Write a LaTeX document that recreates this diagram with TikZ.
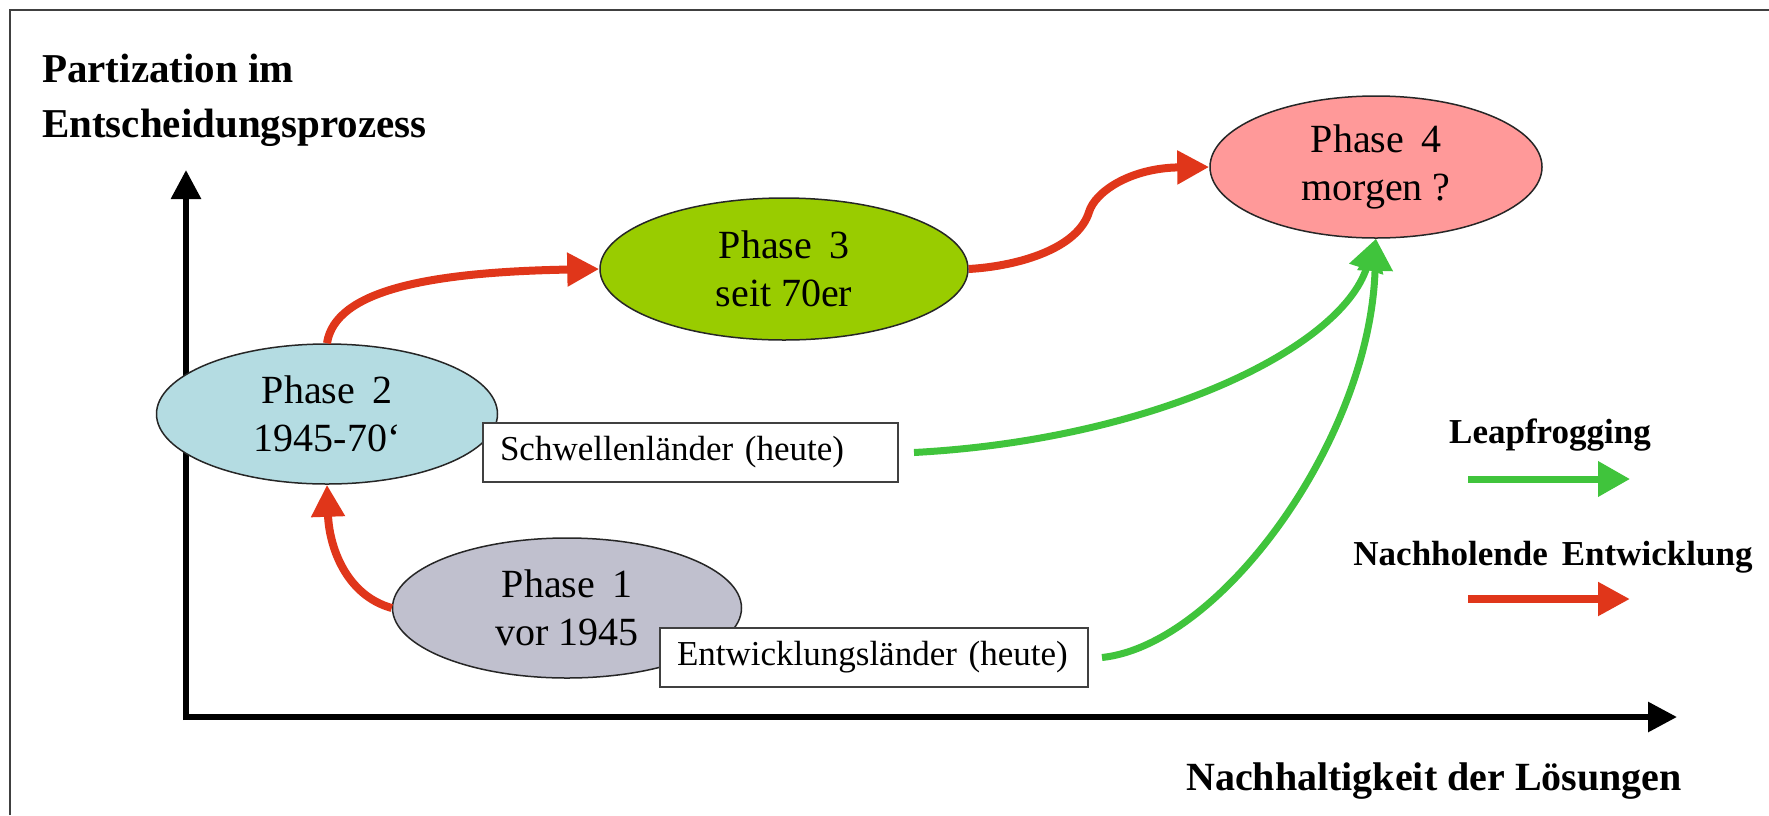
\documentclass[tikz,border=0pt]{standalone}
\usepackage{fontspec}
\setmainfont{Liberation Serif}
\usetikzlibrary{shapes.geometric,arrows.meta}
\definecolor{cone}{HTML}{C0C0CE}
\definecolor{ctwo}{HTML}{B4DCE2}
\definecolor{cthree}{HTML}{99CC00}
\definecolor{cfour}{HTML}{FF9999}
\definecolor{cred}{HTML}{E0361A}
\definecolor{cgreen}{HTML}{40C43C}
\definecolor{cframe}{HTML}{404040}
\newcommand{\wsp}{\hspace{0.42em}}
\begin{document}
\begin{tikzpicture}[x=1pt,y=-1pt,
  ell/.style={ellipse, draw=black!85, line width=1.5pt, inner sep=0pt, align=center,
    font=\fontsize{40}{48}\selectfont},
  lbox/.style={draw=black!75, line width=2pt, fill=white, inner ysep=0pt, inner xsep=17pt,
    align=left, minimum height=59pt, font=\fontsize{35}{40}\selectfont},
  redarr/.style={draw=cred, line width=8pt, -{Triangle[length=32pt,width=32pt]}},
  greenarr/.style={draw=cgreen, line width=7pt, -{Triangle[length=32pt,width=34pt]}},
  axisarr/.style={draw=black, line width=6pt, -{Triangle[length=29pt,width=29pt]}},
  bold/.style={font=\fontsize{35}{40}\selectfont\bfseries, inner sep=0pt}
]
\useasboundingbox (0,0) rectangle (1769,815);
\fill[white] (0,0) rectangle (1769,815);
\draw[cframe, line width=2.5pt] (10,815) -- (10,10) -- (1769,10);

% title
\node[anchor=base west, inner sep=0pt, font=\fontsize{41}{50}\selectfont\bfseries] (t1) at (42,82) {Partization im};
\node[anchor=base west, inner sep=0pt, font=\fontsize{41}{50}\selectfont\bfseries] (t2) at (42,137) {Entscheidungsprozess};

% axes
\coordinate (o) at (186,717);
\coordinate (ytip) at (186,170);
\coordinate (xtip) at (1677,717);
\draw[axisarr] ([yshift=-3pt]o) -- (ytip);
\draw[axisarr] ([xshift=-3pt]o) -- (xtip);
\node[anchor=base, inner sep=0pt, font=\fontsize{40}{48}\selectfont\bfseries] (xl) at (1434,790) {Nachhaltigkeit der Lösungen};

% phases
\node[ell, fill=cone, minimum width=349pt, minimum height=140pt] (p1) at (567,608) {Phase\wsp1\\vor 1945};
\node[ell, fill=ctwo, minimum width=341pt, minimum height=140pt] (p2) at (327,414) {Phase\wsp2\\1945-70‘};
\node[ell, fill=cthree, minimum width=368pt, minimum height=142pt] (p3) at (784,269) {Phase\wsp3\\seit 70er};
\node[ell, fill=cfour, minimum width=332pt, minimum height=142pt] (p4) at (1376,167) {Phase\wsp4\\morgen ?};

% boxes
\node[lbox, anchor=north west, text width=381pt] (sb) at (482,422) {Schwellenländer (heute)};
\node[lbox, anchor=north west, text width=394pt] (eb) at (659,627) {Entwicklungsländer (heute)};

% red arrows
\draw[redarr] (p1.west) .. controls (345,595) and (329,545) .. (p2.south);
\draw[redarr] (p2.north) .. controls (335,290) and (430,272) .. (p3.west);
\draw[redarr] (p3.east) .. controls (1020,266) and (1078,248) .. (1089,212)
   .. controls (1095,192) and (1130,168) .. (p4.west);

% green arrows
\coordinate (gs) at ([xshift=15pt]sb.east);
\coordinate (ge) at ([xshift=13pt]eb.east);
\draw[greenarr] (gs) .. controls (1150,440) and (1340,350) .. (p4.south);
\draw[greenarr] (ge) .. controls (1220,645) and (1370,440) .. (p4.south);

% legend
\node[bold] (lleap) at (1550,435) {Leapfrogging};
\coordinate (lga) at (1468,479);
\coordinate (lgb) at (1630,479);
\draw[greenarr] (lga) -- (lgb);
\node[bold] (lnach) at (1553,557) {Nachholende\hspace{0.4em}Entwicklung};
\coordinate (lra) at (1468,599);
\coordinate (lrb) at (1630,599);
\draw[redarr] (lra) -- (lrb);
\end{tikzpicture}
\end{document}
